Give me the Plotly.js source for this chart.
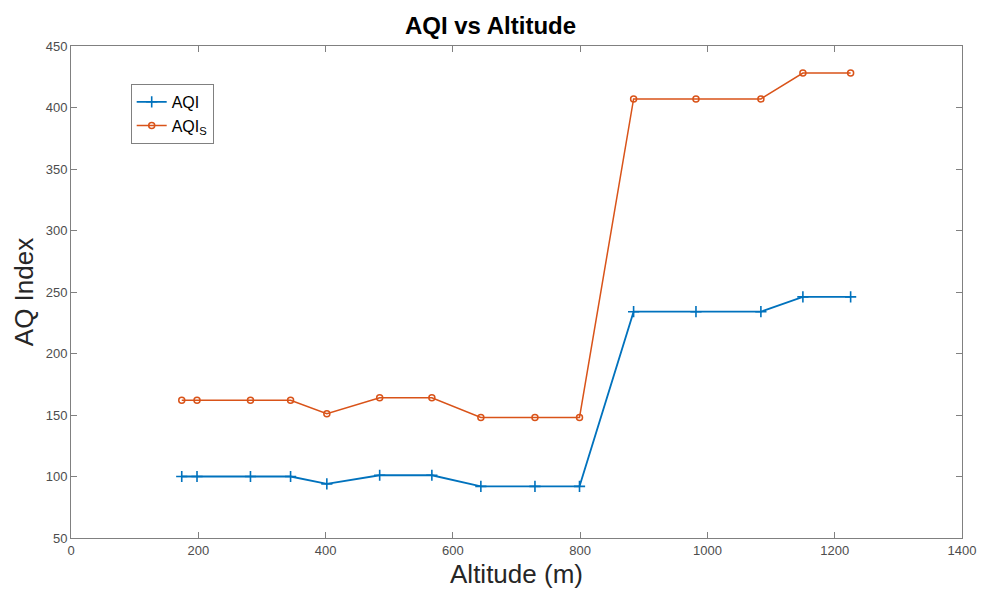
<!DOCTYPE html>
<html>
<head>
<meta charset="utf-8">
<script src="https://cdn.plot.ly/plotly-3.0.1.min.js"></script>
<style>html,body{margin:0;padding:0;background:#fff;}#chart{width:981px;height:598px;}</style>
</head>
<body>
<div id="chart"></div>
<script>
const altitude = [174, 198, 282, 345, 402, 485, 567, 644, 729, 799, 884, 982, 1084, 1150, 1225];
const aqi = [100, 100, 100, 100, 94, 101, 101, 92, 92, 92, 234, 234, 234, 246, 246];
const aqiS = [162, 162, 162, 162, 151, 164, 164, 148, 148, 148, 407, 407, 407, 428, 428];
const xTicks = [0, 200, 400, 600, 800, 1000, 1200, 1400];
const yTicks = [50, 100, 150, 200, 250, 300, 350, 400, 450];

const traces = [
  {
    x: altitude, y: aqi, name: 'AQI', type: 'scatter', mode: 'lines+markers',
    line: {color: '#0072BD', width: 1.8},
    marker: {symbol: 'cross-thin', size: 8, line: {color: '#0072BD', width: 1.6}}
  },
  {
    x: altitude, y: aqiS, name: 'AQI<sub>S</sub>', type: 'scatter', mode: 'lines+markers',
    line: {color: '#D95319', width: 1.5},
    marker: {symbol: 'circle-open', size: 6, color: '#D95319', line: {color: '#D95319', width: 1.5}}
  }
];

const axisCommon = {
  showgrid: false, zeroline: false, showline: true, linecolor: '#808080', linewidth: 1,
  mirror: 'ticks', ticks: 'inside', ticklen: 6, tickcolor: '#808080', tickwidth: 1,
  tickfont: {family: 'Liberation Sans, Arial, sans-serif', size: 13, color: '#4d4d4d'}
};

const layout = {
  width: 981, height: 598,
  margin: {l: 71, r: 19, t: 46, b: 60},
  paper_bgcolor: '#ffffff', plot_bgcolor: '#ffffff',
  title: {text: '<b>AQI vs Altitude</b>', x: 0.5, xanchor: 'center', y: 0.958, yanchor: 'middle',
    font: {family: 'Liberation Sans, Arial, sans-serif', size: 24, color: '#000000'}},
  xaxis: Object.assign({}, axisCommon, {
    range: [0, 1400], tickvals: xTicks, ticktext: xTicks.map(String),
    title: {text: 'Altitude (m)', standoff: 8, font: {family: 'Liberation Sans, Arial, sans-serif', size: 26, color: '#262626'}}
  }),
  yaxis: Object.assign({}, axisCommon, {
    range: [50, 450], tickvals: yTicks, ticktext: yTicks.map(String),
    title: {text: 'AQ Index', standoff: 4, font: {family: 'Liberation Sans, Arial, sans-serif', size: 26, color: '#262626'}}
  }),
  showlegend: true,
  legend: {x: 0.067, y: 0.923, xanchor: 'left', yanchor: 'top', bgcolor: '#ffffff',
    bordercolor: '#808080', borderwidth: 1, tracegroupgap: 0, itemwidth: 30,
    font: {family: 'Liberation Sans, Arial, sans-serif', size: 16, color: '#000000'}}
};

Plotly.newPlot('chart', traces, layout, {displayModeBar: false, staticPlot: true});
</script>
</body>
</html>
